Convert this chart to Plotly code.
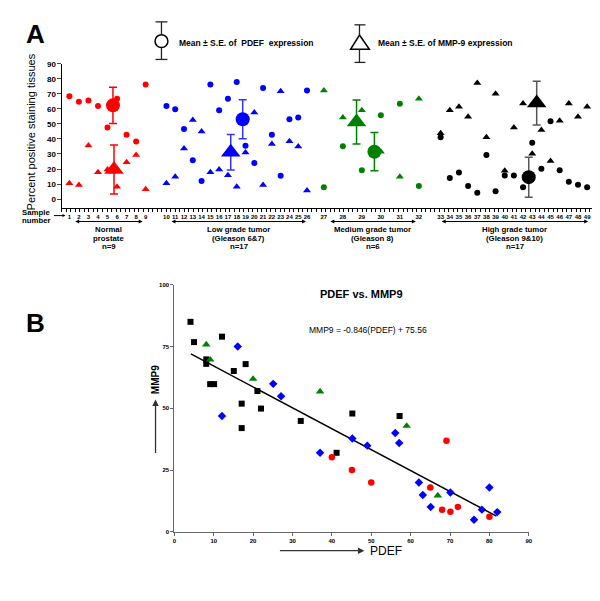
import plotly.graph_objects as go

W, H = 600, 601
def px(x): return x / W
def py(y): return 1 - y / H

# ---------------- Panel A data ----------------
groups = ["Normal", "Low", "Medium", "High"]
group_samples = [list(range(1, 10)), list(range(10, 27)), list(range(27, 33)), list(range(33, 50))]
group_colors = ["#ff0000", "#0000ff", "#008000", "#000000"]
errbar_colors = ["#ff0000", "#3333ff", "#008000", "#555555"]
group_label_lines = [["Normal", "prostate", "n=9"],
                     ["Low grade tumor", "(Gleason 6&7)", "n=17"],
                     ["Medium grade tumor", "(Gleason 8)", "n=6"],
                     ["High grade tumor", "(Gleason 9&10)", "n=17"]]

normal_pdef = [68.4, 64.7, 65.6, 61.9, 47.6, 66.7, 42.8, 38.3, 76.1]
normal_mmp9 = [10.5, 9.4, 35.6, 17.9, 19.7, 8.3, 24.5, 29.3, 6.6]
low_pdef = [61.8, 59.7, 46.6, 25.8, 12.0, 76.1, 59.1, 66.7, 77.8, 35.4, 24.0, 73.9, 42.8, 15.5, 53.1, 54.2, 72.2]
low_mmp9 = [10.5, 14.9, 33.7, 52.5, 45.0, 17.9, 19.7, 15.9, 8.3, 31.0, 57.5, 9.4, 36.7, 71.7, 38.5, 35.0, 5.7]
medium_pdef = [7.9, 35.2, 19.2, 55.8, 63.4, 8.7]
medium_mmp9 = [72.2, 54.2, 59.1, 31.5, 14.8, 66.7]
high_pdef = [41.1, 14.0, 17.7, 8.7, 4.3, 29.3, 5.2, 15.7, 15.7, 7.9, 37.4, 20.1, 51.8, 19.2, 11.5, 9.6, 7.9]
high_mmp9 = [43.7, 59.1, 61.4, 54.7, 77.2, 41.1, 70.0, 18.8, 47.6, 63.6, 30.2, 45.9, 25.3, 52.0, 63.6, 54.7, 61.4]

pdef_mean = [62.3, 53.1, 31.5, 14.6]
pdef_se = [12.0, 13.0, 12.7, 13.3]
mmp9_mean = [19.7, 31.2, 51.2, 63.8]
mmp9_se = [16.3, 11.8, 14.6, 14.5]

pdef_all = [normal_pdef, low_pdef, medium_pdef, high_pdef]
mmp9_all = [normal_mmp9, low_mmp9, medium_mmp9, high_mmp9]

# ---------------- Panel B data ----------------
pdef_high = [4.1, 5.0, 12.1, 8.1, 8.1, 9.1, 10.1, 18.1, 15.1, 21.1, 17.1, 22.0, 17.1, 32.1, 41.2, 45.2, 57.2]
mmp9_high = [85.0, 76.8, 79.0, 69.8, 68.0, 59.8, 59.8, 67.9, 65.1, 57.0, 51.9, 49.9, 42.0, 44.9, 32.0, 47.9, 46.9]
pdef_medium = [8.1, 9.1, 20.0, 37.0, 59.0, 66.9]
mmp9_medium = [75.8, 69.7, 61.9, 56.8, 42.9, 14.7]
pdef_low = [16.1, 25.1, 27.1, 12.1, 37.0, 45.2, 49.0, 56.1, 57.1, 62.1, 63.1, 65.1, 70.1, 76.1, 78.1, 80.0, 82.0]
mmp9_low = [75.0, 59.9, 54.9, 46.9, 32.0, 37.8, 34.9, 40.0, 36.0, 20.0, 14.9, 10.1, 15.9, 4.9, 9.0, 18.0, 8.0]
pdef_normal = [40.0, 45.1, 50.0, 69.1, 65.0, 68.0, 70.1, 72.0, 80.0]
mmp9_normal = [30.2, 25.0, 20.0, 36.9, 18.0, 9.0, 8.1, 10.1, 6.1]
fit_slope, fit_intercept = -0.846, 75.56
fit_x_range = [4.2, 81.8]

# ---------------- layout constants ----------------
FONT = "Liberation Sans, Arial, sans-serif"
a_domains = [(52, 148), (148, 308), (308, 425), (425, 595)]
a_ranges = [(0.169, 10.14), (8.873, 26.90), (26.53, 32.625), (31.92, 50.30)]
mean_pos_pdef = [5.57, 18.68, 29.66, 42.62]
mean_pos_mmp9 = [5.68, 17.32, 28.72, 43.49]
arrow_spans = [(65, 134), (163, 299), (323, 410), (436, 584)]

fig = go.Figure()
layout = dict(width=W, height=H, margin=dict(l=0, r=0, t=0, b=0),
              paper_bgcolor="white", plot_bgcolor="rgba(0,0,0,0)", showlegend=False,
              font=dict(family=FONT, color="black"))

annotations = []
shapes = []

for i in range(4):
    ax = "x" if i == 0 else f"x{i+1}"
    col = group_colors[i]
    fig.add_trace(go.Scatter(x=group_samples[i], y=pdef_all[i], mode="markers", xaxis=ax, yaxis="y",
                             marker=dict(symbol="circle", size=6, color=col), hoverinfo="skip"))
    fig.add_trace(go.Scatter(x=group_samples[i], y=mmp9_all[i], mode="markers", xaxis=ax, yaxis="y",
                             marker=dict(symbol="triangle-up", size=7, color=col), hoverinfo="skip"))
    fig.add_trace(go.Scatter(x=[mean_pos_mmp9[i]], y=[mmp9_mean[i]], mode="markers", xaxis=ax, yaxis="y",
                             marker=dict(symbol="triangle-up", size=17, color=col),
                             error_y=dict(type="data", array=[mmp9_se[i]], color=errbar_colors[i], thickness=1.5, width=4),
                             hoverinfo="skip"))
    fig.add_trace(go.Scatter(x=[mean_pos_pdef[i]], y=[pdef_mean[i]], mode="markers", xaxis=ax, yaxis="y",
                             marker=dict(symbol="circle", size=14, color=col),
                             error_y=dict(type="data", array=[pdef_se[i]], color=errbar_colors[i], thickness=1.5, width=4),
                             hoverinfo="skip"))
    key = "xaxis" if i == 0 else f"xaxis{i+1}"
    layout[key] = dict(domain=[px(a_domains[i][0]), px(a_domains[i][1])], range=list(a_ranges[i]),
                       anchor="y", showline=False, showgrid=False, zeroline=False,
                       tickmode="array", tickvals=group_samples[i], ticktext=[str(s) for s in group_samples[i]],
                       tickangle=0, ticks="outside", ticklen=3, tickcolor="rgba(0,0,0,0)",
                       tickfont=dict(size=6, family=FONT, weight="bold"))
    x0, x1 = arrow_spans[i]
    annotations.append(dict(xref="paper", yref="paper", x=px(x1), y=py(212), ax=x0 - x1, ay=0, axref="pixel", ayref="pixel",
                            text="", showarrow=True, arrowhead=2, startarrowhead=2, arrowside="end+start",
                            arrowsize=0.8, arrowwidth=1, arrowcolor="black"))
    cx = (x0 + x1) / 2
    for j, line in enumerate(group_label_lines[i]):
        annotations.append(dict(xref="paper", yref="paper", x=px(cx), y=py(220.5 + 8.5 * j), text=line, showarrow=False,
                                xanchor="center", yanchor="middle",
                                font=dict(size=7.8, family=FONT, weight="bold")))

fig.add_trace(go.Scatter(x=[None], y=[None], xaxis="x5", yaxis="y", hoverinfo="skip"))
layout["xaxis5"] = dict(domain=[px(52), px(595)], range=[0, 543], anchor="y", showline=True, linecolor="black",
                        linewidth=1, ticks="outside", ticklen=3, tickcolor="black", tick0=0, dtick=4.6,
                        showticklabels=False, showgrid=False, zeroline=False)
layout["yaxis"] = dict(domain=[py(198), py(52.3)], range=[-5.7, 90], anchor="free", position=px(52),
                       showline=True, linecolor="black", linewidth=1, ticks="outside", ticklen=4,
                       tickvals=list(range(0, 91, 10)), showgrid=False, zeroline=False,
                       tickfont=dict(size=8, family=FONT, weight="bold"))

# ---------------- Panel B ----------------
b_series = [(pdef_high, mmp9_high, "square", 6, "#000000"),
            (pdef_medium, mmp9_medium, "triangle-up", 7.5, "#008000"),
            (pdef_low, mmp9_low, "diamond", 6.5, "#0000ff"),
            (pdef_normal, mmp9_normal, "circle", 6.5, "#ff0000")]
fit_y = [fit_slope * x + fit_intercept for x in fit_x_range]
fig.add_trace(go.Scatter(x=fit_x_range, y=fit_y, mode="lines", xaxis="x6", yaxis="y6",
                         line=dict(color="black", width=1.5), hoverinfo="skip"))
for xs, ys, sym, sz, col in b_series:
    fig.add_trace(go.Scatter(x=xs, y=ys, mode="markers", xaxis="x6", yaxis="y6",
                             marker=dict(symbol=sym, size=sz, color=col), hoverinfo="skip", cliponaxis=False))
layout["xaxis6"] = dict(domain=[px(166), px(524)], range=[0, 90], anchor="y6", showline=True, linecolor="#666666",
                        linewidth=1, ticks="outside", ticklen=3, tickcolor="#666666", dtick=10, tick0=0,
                        showgrid=False, zeroline=False, tickfont=dict(size=6, family=FONT, weight="bold"))
layout["yaxis6"] = dict(domain=[py(526), py(276)], range=[0, 100], anchor="x6", showline=True, linecolor="#666666",
                        linewidth=1, ticks="outside", ticklen=3, tickcolor="#666666", dtick=25, tick0=0,
                        showgrid=False, zeroline=False, tickfont=dict(size=6, family=FONT, weight="bold"))

# ---------------- Text / decorations ----------------
annotations += [
    dict(xref="paper", yref="paper", x=px(14), y=py(22), text="A", showarrow=False, xanchor="left", yanchor="middle",
         font=dict(size=26, family=FONT, weight="bold")),
    dict(xref="paper", yref="paper", x=px(14), y=py(315), text="B", showarrow=False, xanchor="left", yanchor="middle",
         font=dict(size=26, family=FONT, weight="bold")),
    dict(xref="paper", yref="paper", x=px(21), y=py(121), text="Percent positive staining tissues", textangle=-90,
         showarrow=False, xanchor="center", yanchor="middle", font=dict(size=11, family=FONT)),
    dict(xref="paper", yref="paper", x=px(169), y=py(31), text="Mean ± S.E. of\u00a0 PDEF\u00a0 expression",
         showarrow=False, xanchor="left", yanchor="middle", font=dict(size=8.5, family=FONT, weight="bold")),
    dict(xref="paper", yref="paper", x=px(370), y=py(31), text="Mean ± S.E. of MMP-9 expression",
         showarrow=False, xanchor="left", yanchor="middle", font=dict(size=8.5, family=FONT, weight="bold")),
    dict(xref="paper", yref="paper", x=px(10), y=py(202.5), text="Sample", showarrow=False, xanchor="left",
         yanchor="middle", font=dict(size=7.8, family=FONT, weight="bold")),
    dict(xref="paper", yref="paper", x=px(10), y=py(211), text="number", showarrow=False, xanchor="left",
         yanchor="middle", font=dict(size=7.8, family=FONT, weight="bold")),
    dict(xref="paper", yref="paper", x=px(56), y=py(206), ax=-13, ay=0, axref="pixel", ayref="pixel", text="",
         showarrow=True, arrowhead=2, arrowsize=0.6, arrowwidth=1, arrowcolor="black"),
    dict(xref="paper", yref="paper", x=px(355), y=py(285), text="PDEF vs. MMP9", showarrow=False,
         xanchor="center", yanchor="middle", font=dict(size=11, family=FONT, weight="bold")),
    dict(xref="paper", yref="paper", x=px(300), y=py(322), text="MMP9 = -0.846(PDEF) + 75.56", showarrow=False,
         xanchor="left", yanchor="middle", font=dict(size=8.5, family=FONT)),
    dict(xref="paper", yref="paper", x=px(147), y=py(372), text="MMP9", textangle=-90, showarrow=False,
         xanchor="center", yanchor="middle", font=dict(size=10, family=FONT, weight="bold")),
    dict(xref="paper", yref="paper", x=px(147), y=py(392), ax=0, ay=55, axref="pixel", ayref="pixel", text="",
         showarrow=True, arrowhead=2, arrowsize=1, arrowwidth=1.3, arrowcolor="#333333"),
    dict(xref="paper", yref="paper", x=px(380), y=py(545), text="PDEF", showarrow=False,
         xanchor="center", yanchor="middle", font=dict(size=12, family=FONT)),
    dict(xref="paper", yref="paper", x=px(358), y=py(545), ax=-86, ay=0, axref="pixel", ayref="pixel", text="",
         showarrow=True, arrowhead=2, arrowsize=1, arrowwidth=1.3, arrowcolor="#333333"),
]

lc = "#222222"
shapes += [
    dict(type="circle", xref="paper", yref="paper", x0=px(146.5), x1=px(159.5), y0=py(36), y1=py(23),
         line=dict(color="black", width=1.5), fillcolor="white"),
    dict(type="line", xref="paper", yref="paper", x0=px(153), x1=px(153), y0=py(10), y1=py(23), line=dict(color=lc, width=1.3)),
    dict(type="line", xref="paper", yref="paper", x0=px(153), x1=px(153), y0=py(36), y1=py(48), line=dict(color=lc, width=1.3)),
    dict(type="line", xref="paper", yref="paper", x0=px(147), x1=px(159), y0=py(10), y1=py(10), line=dict(color=lc, width=1.3)),
    dict(type="line", xref="paper", yref="paper", x0=px(147), x1=px(159), y0=py(48), y1=py(48), line=dict(color=lc, width=1.3)),
    dict(type="path", xref="paper", yref="paper",
         path=f"M {px(353)} {py(23.3)} L {px(363)} {py(37.7)} L {px(344)} {py(37.7)} Z",
         line=dict(color="black", width=1.5), fillcolor="white"),
    dict(type="line", xref="paper", yref="paper", x0=px(353), x1=px(353), y0=py(13), y1=py(23.3), line=dict(color=lc, width=1.3)),
    dict(type="line", xref="paper", yref="paper", x0=px(353), x1=px(353), y0=py(37.7), y1=py(51), line=dict(color=lc, width=1.3)),
    dict(type="line", xref="paper", yref="paper", x0=px(348), x1=px(359), y0=py(13), y1=py(13), line=dict(color=lc, width=1.3)),
    dict(type="line", xref="paper", yref="paper", x0=px(348), x1=px(359), y0=py(51), y1=py(51), line=dict(color=lc, width=1.3)),
]

layout["annotations"] = annotations
layout["shapes"] = shapes
fig.update_layout(**layout)
fig.write_html("out.html")
